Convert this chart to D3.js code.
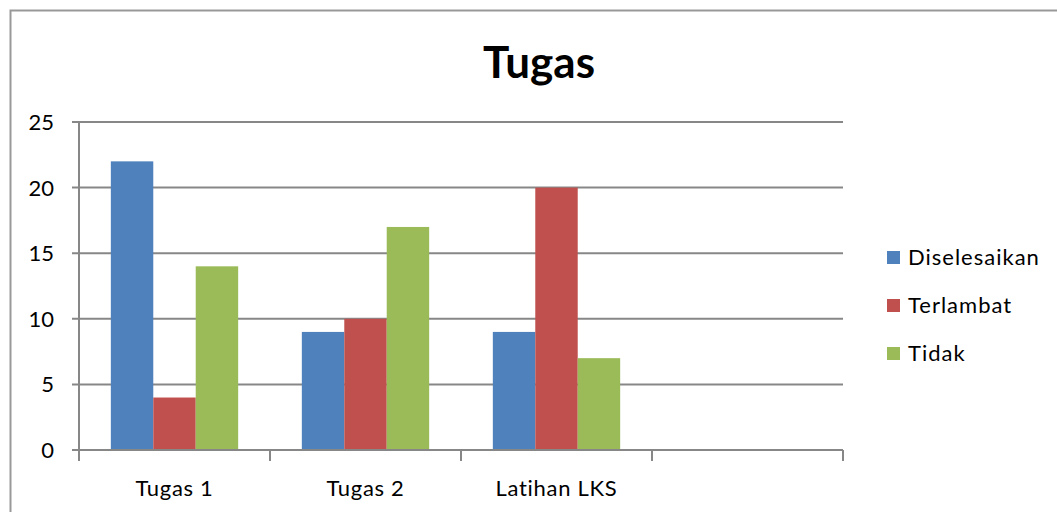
<!DOCTYPE html>
<html>
<head>
<meta charset="utf-8">
<script src="https://cdn.jsdelivr.net/npm/d3@7"></script>
<style>
  body { margin: 0; background: #fff; }
  text { font-family: Lato, "Open Sans", sans-serif; fill: #000; }
</style>
</head>
<body>
<svg id="chart" width="1057" height="512"></svg>
<script>
// données du graphique
var categories = ["Tugas 1", "Tugas 2", "Latihan LKS", ""];
var seriesNames = ["Diselesaikan", "Terlambat", "Tidak"];
var diselesaikan = [22, 9, 9, null];
var terlambat = [4, 10, 20, null];
var tidak = [14, 17, 7, null];
var yTicks = [0, 5, 10, 15, 20, 25];
var colors = ["#4F81BD", "#C0504D", "#9BBB59"];

var series = [diselesaikan, terlambat, tidak];

var svg = d3.select("#chart");

// cadre
svg.append("rect")
  .attr("x", 10.5).attr("y", 10.5)
  .attr("width", 1100).attr("height", 600)
  .attr("fill", "none")
  .attr("stroke", "#999")
  .attr("stroke-width", 2);

var x = d3.scaleBand().domain(categories).range([79, 843]);
var y = d3.scaleLinear().domain([0, 25]).range([450, 122]);

// largeur de barre : écart de 150%
var barW = x.bandwidth() / 4.5;
var x1 = d3.scaleBand().domain(seriesNames)
  .range([0, barW * 3]);

// grille
svg.append("g")
  .selectAll("line")
  .data(yTicks)
  .enter()
  .append("line")
    .attr("x1", 72).attr("x2", 843)
    .attr("y1", function(d){ return y(d); })
    .attr("y2", function(d){ return y(d); })
    .attr("stroke", "#878787")
    .attr("stroke-width", 2);

// barres
series.forEach(function(vals, s) {
  svg.append("g")
    .selectAll("rect")
    .data(categories.map(function(c, i){ return {cat: c, v: vals[i]}; })
                    .filter(function(d){ return d.v != null; }))
    .enter()
    .append("rect")
      .attr("x", function(d){ return x(d.cat) + (x.bandwidth() - barW * 3) / 2 + x1(seriesNames[s]); })
      .attr("y", function(d){ return y(d.v); })
      .attr("width", barW)
      .attr("height", function(d){ return y(0) - y(d.v); })
      .attr("fill", colors[s]);
});

// axe vertical
svg.append("line")
  .attr("x1", 79).attr("x2", 79)
  .attr("y1", y(25)).attr("y2", y(0))
  .attr("stroke", "#878787").attr("stroke-width", 2);

// axe horizontal
svg.append("line")
  .attr("x1", 72).attr("x2", 843)
  .attr("y1", y(0)).attr("y2", y(0))
  .attr("stroke", "#878787").attr("stroke-width", 2);

// graduations de l'axe x
var catTicks = categories.map(function(c){ return x(c); }).concat([x.range()[1]]);
svg.append("g")
  .selectAll("line")
  .data(catTicks)
  .enter()
  .append("line")
    .attr("x1", function(d){ return d; })
    .attr("x2", function(d){ return d; })
    .attr("y1", y(0)).attr("y2", y(0) + 11)
    .attr("stroke", "#878787").attr("stroke-width", 2);

// étiquettes y
svg.append("g")
  .selectAll("text")
  .data(yTicks)
  .enter()
  .append("text")
    .attr("x", 54)
    .attr("y", function(d){ return y(d) + 8; })
    .attr("text-anchor", "end")
    .style("font-size", "22px")
    .text(function(d){ return d; });

// étiquettes x
svg.append("g")
  .selectAll("text")
  .data(categories)
  .enter()
  .append("text")
    .attr("x", function(d){ return x(d) + x.bandwidth() / 2; })
    .attr("y", 496)
    .attr("text-anchor", "middle")
    .style("font-size", "22px")
    .style("letter-spacing", "0.7px")
    .text(function(d){ return d; });

// titre
svg.append("text")
  .attr("x", 539).attr("y", 78)
  .attr("text-anchor", "middle")
  .style("font-size", "44px")
  .style("font-weight", "bold")
  .text("Tugas");

// légende
var legend = svg.append("g")
  .selectAll("g")
  .data(seriesNames)
  .enter()
  .append("g")
    .attr("transform", function(d, i){ return "translate(887," + (257 + i * 48) + ")"; });

legend.append("rect")
  .attr("x", 0).attr("y", -6)
  .attr("width", 13).attr("height", 13)
  .attr("fill", function(d, i){ return colors[i]; });

legend.append("text")
  .attr("x", 21).attr("y", 8)
  .style("font-size", "22px")
  .style("letter-spacing", "1px")
  .text(function(d){ return d; });
</script>
</body>
</html>
